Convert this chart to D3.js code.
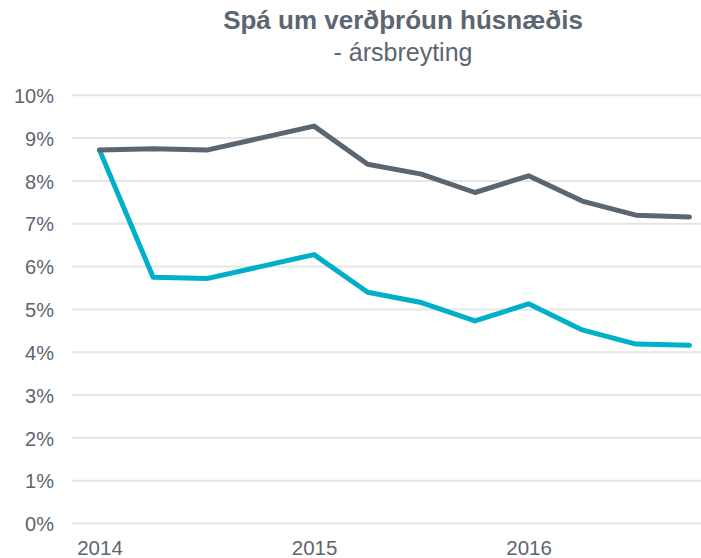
<!DOCTYPE html>
<html>
<head>
<meta charset="utf-8">
<script src="https://cdn.jsdelivr.net/npm/d3@7"></script>
<style>
  html, body { margin: 0; padding: 0; background: #fff; }
  svg { display: block; font-family: "Liberation Sans", Arial, sans-serif; }
</style>
</head>
<body>
<svg id="chart" width="701" height="558"></svg>
<script>
// Data (quarterly, 2014 Q1 – 2016 Q4)
const periods = ["2014Q1","2014Q2","2014Q3","2014Q4","2015Q1","2015Q2","2015Q3","2015Q4","2016Q1","2016Q2","2016Q3","2016Q4"];
const seriesGray = [8.72, 8.75, 8.72, 9.00, 9.28, 8.39, 8.16, 7.73, 8.12, 7.53, 7.20, 7.16];
const seriesCyan = [8.72, 5.75, 5.72, 6.00, 6.28, 5.40, 5.16, 4.73, 5.13, 4.52, 4.19, 4.16];
const yTicks = [0,1,2,3,4,5,6,7,8,9,10];
const xTickLabels = [{i: 0, label: "2014"}, {i: 4, label: "2015"}, {i: 8, label: "2016"}];
const titleText = "Spá um verðþróun húsnæðis";
const subtitleText = "- ársbreyting";

const svg = d3.select("#chart");
const textColor = "#5b6670";

const x = d3.scaleLinear().domain([0, periods.length - 1]).range([99.5, 689.5]);
const y = d3.scaleLinear().domain([0, 10]).range([523.5, 95.3]);

// Title
svg.append("text").attr("x", 403).attr("y", 29)
  .attr("text-anchor", "middle").attr("font-size", 26).attr("font-weight", "bold")
  .attr("fill", textColor).text(titleText);
svg.append("text").attr("x", 403).attr("y", 61)
  .attr("text-anchor", "middle").attr("font-size", 25)
  .attr("fill", textColor).text(subtitleText);

// Gridlines
svg.append("g").selectAll("line").data(yTicks).join("line")
  .attr("x1", 72).attr("x2", 701)
  .attr("y1", d => y(d)).attr("y2", d => y(d))
  .attr("stroke", "#e5e5e5").attr("stroke-width", 2);

// Y axis
const yAxis = d3.axisLeft(y).tickValues(yTicks).tickFormat(d => d + "%").tickSize(0).tickPadding(0);
const gy = svg.append("g").attr("transform", "translate(54,0)").call(yAxis);
gy.select(".domain").remove();
gy.selectAll("text").attr("font-size", 20).attr("fill", textColor)
  .attr("font-family", "Liberation Sans, Arial, sans-serif").attr("dy", "0.36em");

// X axis
const xAxis = d3.axisBottom(x).tickValues(xTickLabels.map(d => d.i))
  .tickFormat(i => xTickLabels.find(d => d.i === i).label).tickSize(0).tickPadding(0);
const gx = svg.append("g").attr("transform", "translate(0,540)").call(xAxis);
gx.select(".domain").remove();
gx.selectAll("text").attr("font-size", 20.5).attr("fill", textColor)
  .attr("font-family", "Liberation Sans, Arial, sans-serif").attr("dy", "0.71em");

// Lines
const line = d3.line().x((d, i) => x(i)).y(d => y(d));
svg.append("path").datum(seriesCyan).attr("d", line)
  .attr("fill", "none").attr("stroke", "#00b0c8").attr("stroke-width", 5)
  .attr("stroke-linejoin", "round").attr("stroke-linecap", "round");
svg.append("path").datum(seriesGray).attr("d", line)
  .attr("fill", "none").attr("stroke", "#5b6670").attr("stroke-width", 5)
  .attr("stroke-linejoin", "round").attr("stroke-linecap", "round");
</script>
</body>
</html>
